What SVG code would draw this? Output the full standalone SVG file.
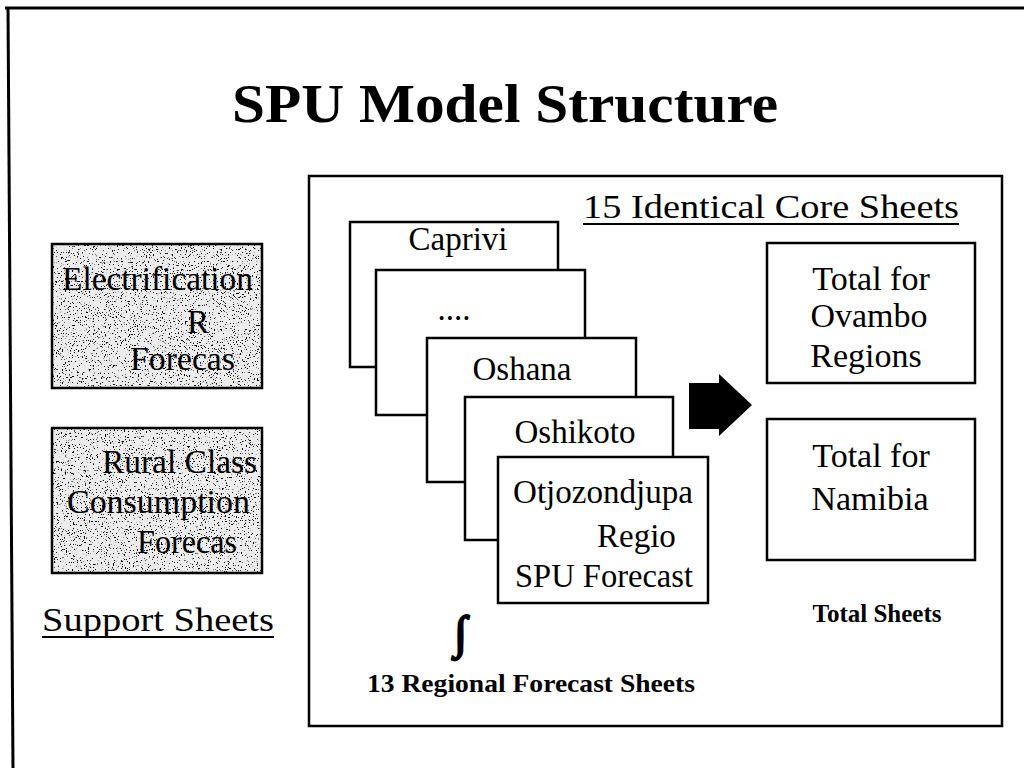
<svg xmlns="http://www.w3.org/2000/svg" width="1024" height="768" viewBox="0 0 1024 768">
  <defs>
    <!-- fine black speckle used as the stipple fill of the support sheets -->
    <filter id="speckle" x="0" y="0" width="100%" height="100%">
      <feTurbulence type="fractalNoise" baseFrequency="0.75" numOctaves="2" seed="7" result="noise"/>
      <feColorMatrix in="noise" type="matrix" values="0 0 0 0 0  0 0 0 0 0  0 0 0 0 0  16 0 0 0 -10.1" result="dots"/>
      <feComposite in="dots" in2="SourceGraphic" operator="in"/>
    </filter>
    <style>
      .frame { fill: none; stroke: #000; stroke-width: 3; }
      .box { fill: #fff; stroke: #000; stroke-width: 2.5; }
      .sup { fill: #ececec; stroke: none; }
      .t { font-family: "Liberation Serif", "Times New Roman", serif; fill: #000; }
      .title { font-size: 54px; font-weight: bold; }
      .lbl { font-size: 33px; }
      .tot { font-size: 34px; }
      .cap { font-size: 34px; }
      .small { font-size: 25px; font-weight: bold; }
      .ul { stroke: #000; stroke-width: 2; }
    </style>
  </defs>

  <rect width="1024" height="768" fill="#fff"/>

  <!-- page border (top and left edges) -->
  <line class="frame" x1="5" y1="8" x2="1024" y2="8"/>
  <line class="frame" x1="8" y1="7" x2="13" y2="768"/>

  <text class="t title" x="232" y="122" textLength="546" lengthAdjust="spacingAndGlyphs">SPU Model Structure</text>

  <!-- support sheets -->
  <g id="support-electrification">
    <rect class="sup" x="52" y="244" width="210" height="144"/>
    <rect x="52" y="244" width="210" height="144" fill="#000" filter="url(#speckle)"/>
    <rect x="52" y="244" width="210" height="144" fill="none" stroke="#000" stroke-width="2.5"/>
    <text class="t lbl" x="62" y="290" textLength="191" lengthAdjust="spacingAndGlyphs">Electrification</text>
    <text class="t lbl" x="187" y="333">R</text>
    <text class="t lbl" x="130" y="370" textLength="105" lengthAdjust="spacingAndGlyphs">Forecas</text>
  </g>
  <g id="support-rural">
    <rect class="sup" x="52" y="428" width="210" height="145"/>
    <rect x="52" y="428" width="210" height="145" fill="#000" filter="url(#speckle)"/>
    <rect x="52" y="428" width="210" height="145" fill="none" stroke="#000" stroke-width="2.5"/>
    <text class="t lbl" x="102" y="473" textLength="155" lengthAdjust="spacingAndGlyphs">Rural Class</text>
    <text class="t lbl" x="67" y="513" textLength="183" lengthAdjust="spacingAndGlyphs">Consumption</text>
    <text class="t lbl" x="137" y="553" textLength="100" lengthAdjust="spacingAndGlyphs">Forecas</text>
  </g>
  <g id="support-caption">
    <text class="t cap" x="42" y="631" textLength="232" lengthAdjust="spacingAndGlyphs">Support Sheets</text>
    <line class="ul" x1="42" y1="637" x2="274" y2="637"/>
  </g>

  <!-- core sheets container -->
  <g id="core">
    <rect class="box" x="309" y="176" width="693" height="550"/>
    <text class="t cap" x="583" y="218" textLength="376" lengthAdjust="spacingAndGlyphs">15 Identical Core Sheets</text>
    <line class="ul" x1="583" y1="224" x2="959" y2="224"/>
  </g>

  <!-- stacked regional sheets, back to front -->
  <g id="sheet-caprivi">
    <rect class="box" x="350" y="222" width="208" height="145"/>
    <text class="t lbl" x="458" y="250" text-anchor="middle">Caprivi</text>
  </g>
  <g id="sheet-more">
    <rect class="box" x="376" y="270" width="209" height="145"/>
    <text class="t lbl" x="454" y="320" text-anchor="middle">....</text>
  </g>
  <g id="sheet-oshana">
    <rect class="box" x="427" y="338" width="209" height="144"/>
    <text class="t lbl" x="522" y="380" text-anchor="middle">Oshana</text>
  </g>
  <g id="sheet-oshikoto">
    <rect class="box" x="465" y="397" width="208" height="143"/>
    <text class="t lbl" x="575" y="443" text-anchor="middle">Oshikoto</text>
  </g>
  <g id="sheet-otjozondjupa">
    <rect class="box" x="498" y="457" width="210" height="146"/>
    <text class="t lbl" x="513" y="503" textLength="180" lengthAdjust="spacingAndGlyphs">Otjozondjupa</text>
    <text class="t lbl" x="597" y="547">Regio</text>
    <text class="t lbl" x="515" y="587" textLength="178" lengthAdjust="spacingAndGlyphs">SPU Forecast</text>
  </g>
  <g id="regional-caption">
    <text class="t" x="460" y="648" font-size="46" font-weight="bold" font-style="italic" text-anchor="middle" stroke="#000" stroke-width="2.2">∫</text>
    <text class="t small" x="367" y="692" textLength="328" lengthAdjust="spacingAndGlyphs">13 Regional Forecast Sheets</text>
  </g>

  <!-- total sheets -->
  <g id="total-ovambo">
    <rect class="box" x="767" y="243" width="208" height="140"/>
    <text class="t tot" x="871" y="290" text-anchor="middle">Total for</text>
    <text class="t tot" x="869" y="327" text-anchor="middle">Ovambo</text>
    <text class="t tot" x="866" y="367" text-anchor="middle">Regions</text>
  </g>
  <g id="total-namibia">
    <rect class="box" x="767" y="419" width="208" height="141"/>
    <text class="t tot" x="871" y="467" text-anchor="middle">Total for</text>
    <text class="t tot" x="870" y="510" text-anchor="middle">Namibia</text>
  </g>
  <g id="total-caption">
    <text class="t small" x="877" y="622" text-anchor="middle">Total Sheets</text>
  </g>

  <!-- block arrow from regional sheets to totals -->
  <g id="connectors">
    <polygon points="689,383 719,383 719,374 752,405 719,436 719,429 689,429" fill="#000"/>
  </g>
</svg>
